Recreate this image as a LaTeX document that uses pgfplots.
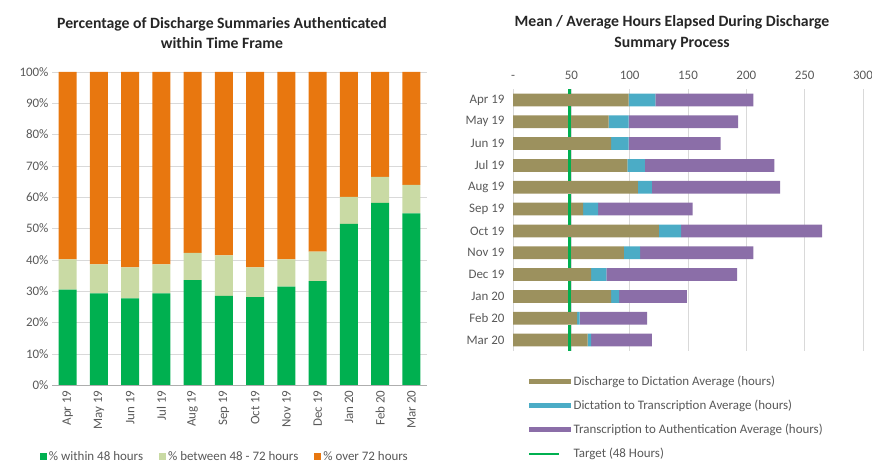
\documentclass[border=0pt]{standalone}
\usepackage{fontspec}
\setmainfont{Carlito}
\usepackage{pgfplots}
\pgfplotsset{compat=1.18}
\definecolor{cgreen}{HTML}{00B050}
\definecolor{clight}{HTML}{C9DAA4}
\definecolor{corange}{HTML}{E8770F}
\definecolor{colive}{HTML}{9C915E}
\definecolor{cblue}{HTML}{4BACC6}
\definecolor{cpurple}{HTML}{8B6EA8}
\definecolor{ctext}{HTML}{595959}
\definecolor{cgrid}{HTML}{D9D9D9}
\newcommand{\tfont}{\fontsize{13}{15}\selectfont}
\begin{document}
\begin{tikzpicture}
\useasboundingbox (0bp,0bp) rectangle (872bp,464bp);
\node[font=\fontsize{15.8}{21}\selectfont\bfseries, align=center, text=black!85] at (222bp,431bp) {Percentage of Discharge Summaries Authenticated\\within Time Frame};
\node[font=\fontsize{15.8}{21}\selectfont\bfseries, align=center, text=black!85] at (672bp,431bp) {Mean / Average Hours Elapsed During Discharge\\Summary Process};

% ---------- left chart ----------
\begin{axis}[at={(52bp,79bp)}, anchor=south west, scale only axis,
  width=375bp, height=313bp,
  ybar stacked, bar width=18bp,
  xmin=-0.5, xmax=11.5, ymin=0, ymax=100,
  xtick={0,...,11},
  xticklabels={Apr 19,May 19,Jun 19,Jul 19,Aug 19,Sep 19,Oct 19,Nov 19,Dec 19,Jan 20,Feb 20,Mar 20},
  ytick={0,10,...,100},
  yticklabels={0\%,10\%,20\%,30\%,40\%,50\%,60\%,70\%,80\%,90\%,100\%},
  ymajorgrids, grid style={cgrid},
  axis line style={draw=none}, major tick length=0pt,
  tick label style={font=\tfont, text=ctext},
  xticklabel style={rotate=90, anchor=east, xshift=-2bp},
  legend columns=3,
  legend style={at={(0.461,-0.228)}, anchor=center, draw=none, font=\tfont, text=ctext,
    /tikz/every even column/.append style={column sep=14bp}},
  legend image code/.code={\fill[#1] (0bp,-3.5bp) rectangle (7bp,3.5bp);},
]
\addplot[fill=cgreen, draw=none] coordinates {(0,30.5) (1,29.3) (2,27.7) (3,29.3) (4,33.5) (5,28.5) (6,28.1) (7,31.4) (8,33.2) (9,51.5) (10,58.2) (11,54.8)};
\addplot[fill=clight, draw=none] coordinates {(0,9.6) (1,9.2) (2,9.9) (3,9.2) (4,8.7) (5,12.9) (6,9.5) (7,8.7) (8,9.4) (9,8.6) (10,8.3) (11,9.1)};
\addplot[fill=corange, draw=none] coordinates {(0,59.9) (1,61.5) (2,62.4) (3,61.5) (4,57.8) (5,58.6) (6,62.4) (7,59.9) (8,57.4) (9,39.9) (10,33.5) (11,36.1)};
\legend{\% within 48 hours,\% between 48 - 72 hours,\% over 72 hours}
\end{axis}
\draw[cgrid!80!black] (52bp,79bp) -- (427bp,79bp);

% ---------- right chart ----------
\begin{axis}[at={(513bp,113bp)}, anchor=south west, scale only axis,
  width=350bp, height=262bp,
  xbar stacked, bar width=12.7bp,
  y dir=reverse, ymin=-0.5, ymax=11.5,
  xmin=0, xmax=300,
  xtick={0,50,...,300}, xticklabels={-,50,100,150,200,250,300},
  xticklabel pos=upper,
  xticklabel style={yshift=6bp},
  xmajorgrids, grid style={cgrid},
  ytick={0,...,11},
  yticklabels={Apr 19,May 19,Jun 19,Jul 19,Aug 19,Sep 19,Oct 19,Nov 19,Dec 19,Jan 20,Feb 20,Mar 20},
  yticklabel style={xshift=-5bp},
  axis line style={draw=none}, major tick length=0pt,
  tick label style={font=\tfont, text=ctext},
  legend cell align=left,
  legend style={at={(0.034,-0.078)}, anchor=north west, draw=none, font=\tfont, text=ctext, row sep=9.3bp},
  legend image code/.code={\fill[#1] (0bp,-2.5bp) rectangle (42bp,2.5bp);},
]
\addplot[fill=colive, draw=none] coordinates {(99,0) (82,1) (84,2) (98,3) (107,4) (60,5) (125,6) (95,7) (67,8) (84,9) (55,10) (64,11)};
\addplot[fill=cblue, draw=none] coordinates {(23,0) (17,1) (15,2) (15,3) (12,4) (13,5) (19,6) (14,7) (13,8) (7,9) (2,10) (3,11)};
\addplot[fill=cpurple, draw=none] coordinates {(84,0) (94,1) (79,2) (111,3) (110,4) (81,5) (121,6) (97,7) (112,8) (58,9) (58,10) (52,11)};
\addlegendimage{legend image code/.code={\draw[cgreen, line width=2.5bp] (0bp,0bp) -- (30bp,0bp); \path (42bp,0bp);}}
\legend{Discharge to Dictation Average (hours),Dictation to Transcription Average (hours),Transcription to Authentication Average (hours),Target (48 Hours)}
\end{axis}
\begin{axis}[at={(513bp,113bp)}, anchor=south west, scale only axis,
  width=350bp, height=262bp,
  y dir=reverse, ymin=-0.5, ymax=11.5, xmin=0, xmax=300,
  hide axis]
\addplot[cgreen, line width=3bp, dash pattern=on 30.97bp off 12.7bp, dash phase=26.4bp] coordinates {(48,-0.5) (48,11.5)};
\end{axis}
\end{tikzpicture}
\end{document}
